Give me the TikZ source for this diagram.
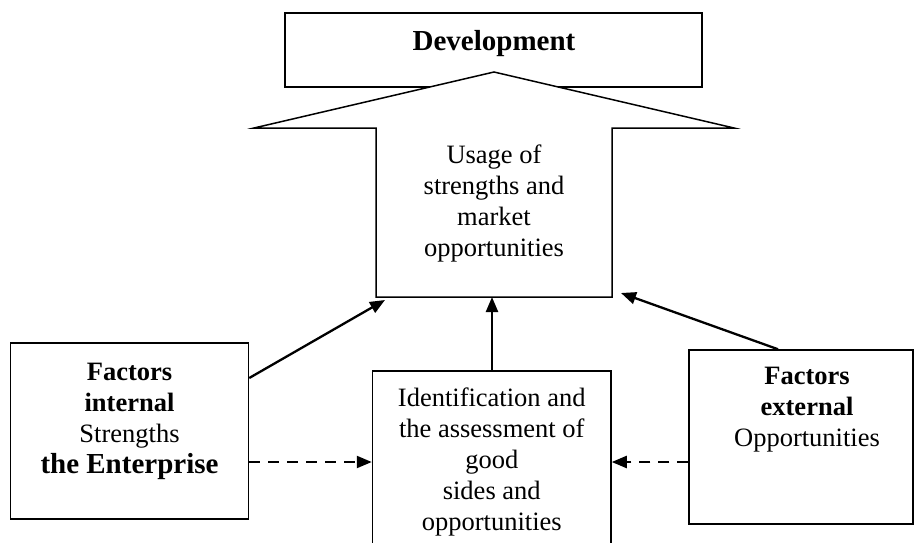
\documentclass[tikz,border=0pt]{standalone}
\usepackage{fontspec}
\setmainfont{Liberation Serif}
\usetikzlibrary{arrows.meta}

\begin{document}
\begin{tikzpicture}[x=1pt,y=-1pt,
  box/.style={draw,line width=1.5pt,fill=white,inner sep=0pt},
  txt/.style={align=center,font=\fontsize{26.5}{31}\selectfont},
  arr/.style={line width=2.3pt,-{Triangle[length=15pt,width=12pt]}},
  dasharr/.style={arr,dash pattern=on 11pt off 8pt}]
  \useasboundingbox (0,0) rectangle (916,542);

  \node[box,minimum width=417pt,minimum height=74pt] (dev) at (493.5,50) {};
  \node[font=\fontsize{29}{34}\selectfont\bfseries] (devtxt) at (494,44) {Development};

% the big arrow
\coordinate (tip) at (494,72);
\draw[line width=1.5pt,fill=white] (tip) -- (734,128) -- (612,128) -- (612,297)
  -- (376,297) -- (376,128) -- (254,128) -- cycle;
\node[txt] (usage) at (494,203) {Usage of\\strengths and\\market\\opportunities};

\coordinate (usageL) at (385,300);
\coordinate (usageM) at (492,297);
\coordinate (usageR) at (621,293);

  \node[box,minimum width=238pt,minimum height=176pt] (intl) at (129.5,431) {};
  \node[txt] (intltxt) at (129.5,421)
    {\textbf{Factors}\\\textbf{internal}\\Strengths\\{\fontsize{29}{34}\selectfont\bfseries the Enterprise}};

  \node[box,txt,minimum width=238.5pt,minimum height=182pt] (ident) at (491.75,462)
    {Identification and\\the assessment of\\good\\sides and\\opportunities};

  \node[box,minimum width=224pt,minimum height=174pt] (extl) at (801,437) {};
  \node[txt] (extltxt) at (807,410) {\textbf{Factors}\\\textbf{external}\\Opportunities};

\draw[arr] ([yshift=53pt]intl.east) -- (usageL);
\draw[arr] (ident.north -| usageM) -- (usageM);
\draw[arr] ([xshift=-23pt]extl.north) -- (usageR);

\draw[dasharr] ([yshift=-31pt]intl.east) -- (ident.west);
\draw[dasharr] ([yshift=-25pt]extl.west) -- (ident.east);
\end{tikzpicture}
\end{document}
